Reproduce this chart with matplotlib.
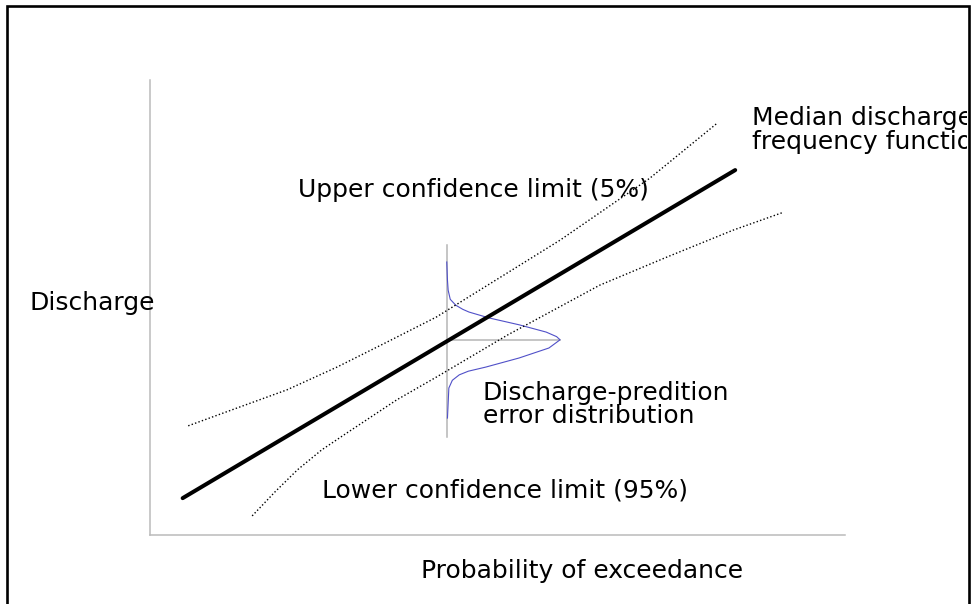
import matplotlib
matplotlib.use("Agg")
import matplotlib.pyplot as plt
from matplotlib.patches import Rectangle
from matplotlib.transforms import Bbox, TransformedBbox

# schematic values (axes run 0..10 both ways)
median_x = [0.47, 8.42]
median_y = [0.81, 8.02]

upper_x = [0.55, 1.25, 1.97, 2.69, 3.41, 4.12, 5.90, 7.19, 8.16]
upper_y = [2.40, 2.79, 3.19, 3.69, 4.24, 4.79, 6.48, 7.84, 9.05]

lower_x = [1.47, 1.80, 2.12, 2.47, 2.83, 3.55, 4.12, 5.15, 6.47, 7.44, 8.39, 9.09]
lower_y = [0.42, 0.95, 1.43, 1.87, 2.24, 2.97, 3.47, 4.40, 5.49, 6.11, 6.70, 7.08]

# error distribution drawn around the median at x = 4.27
dist_x = [4.27, 4.28, 4.29, 4.32, 4.40, 4.50, 4.59, 4.88, 5.31, 5.70, 5.85, 5.90,
          5.82, 5.74, 5.31, 4.83, 4.58, 4.45, 4.35, 4.30, 4.29, 4.28]
dist_y = [6.00, 5.60, 5.38, 5.18, 5.05, 4.96, 4.90, 4.77, 4.62, 4.46, 4.36, 4.29,
          4.20, 4.11, 3.89, 3.69, 3.60, 3.52, 3.40, 3.23, 2.90, 2.57]
stem_x = [4.27, 4.27]
stem_y = [2.15, 6.37]
peak_x = [4.27, 5.90]
peak_y = [4.29, 4.29]

fig = plt.figure(figsize=(9.73, 6.04), dpi=100)
ax = fig.add_axes([150/973, 69/604, 695/973, 455/604])
ax.set_xlim(0, 10)
ax.set_ylim(0, 10)
ax.set_xticks([])
ax.set_yticks([])
for s in ["top", "right"]:
    ax.spines[s].set_visible(False)
for s in ["left", "bottom"]:
    ax.spines[s].set_color("#bbbbbb")
    ax.spines[s].set_linewidth(1.1)

ax.plot(stem_x, stem_y, color="#b5b5b5", lw=1.1, clip_on=False)
ax.plot(peak_x, peak_y, color="#b5b5b5", lw=1.1)
ax.plot(dist_x, dist_y, color="#5050c8", lw=0.8)

ax.plot(median_x, median_y, color="black", lw=2.9, solid_capstyle="round")
ax.plot(upper_x, upper_y, color="black", lw=1.0, ls=(0, (1, 1.6)))
ax.plot(lower_x, lower_y, color="black", lw=1.0, ls=(0, (1, 1.6)))

fs = 18
ax.text(-1.73, 5.10, "Discharge", fontsize=fs, ha="left", va="center", clip_on=False)
ax.text(6.22, -0.79, "Probability of exceedance", fontsize=fs, ha="center", va="center", clip_on=False)
ax.text(2.13, 7.58, "Upper confidence limit (5%)", fontsize=fs, ha="left", va="center")
ax.text(2.47, 0.97, "Lower confidence limit (95%)", fontsize=fs, ha="left", va="center")
ax.text(4.79, 2.87, "Discharge-predition\nerror distribution", fontsize=fs, ha="left",
        va="center", linespacing=0.92)
med = ax.text(8.66, 8.91, "Median discharge\nfrequency function", fontsize=fs, ha="left",
              va="center", linespacing=1.0)

# outer frame, open at the bottom; text is cut off at its right edge
frame = Rectangle((7/973, -0.2), 962/973, 1.2 - 5.5/604, transform=fig.transFigure,
                  fill=False, edgecolor="black", lw=1.9)
fig.add_artist(frame)
med.set_clip_box(TransformedBbox(Bbox([[0, 0], [967/973, 1]]), fig.transFigure))
med.set_clip_on(True)

fig.savefig("out.png", dpi=100)
